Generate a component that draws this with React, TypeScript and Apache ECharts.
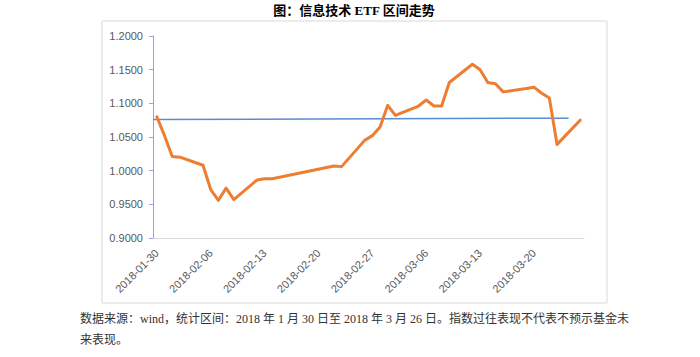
import React, { useEffect, useRef } from 'react';
import * as echarts from 'echarts';

// ---- data ----
const tradingDates = [
  '2018-01-30', '2018-01-31', '2018-02-01', '2018-02-02', '2018-02-05', '2018-02-06',
  '2018-02-07', '2018-02-08', '2018-02-09', '2018-02-12', '2018-02-13', '2018-02-14',
  '2018-02-22', '2018-02-23', '2018-02-26', '2018-02-27', '2018-02-28', '2018-03-01',
  '2018-03-02', '2018-03-05', '2018-03-06', '2018-03-07', '2018-03-08', '2018-03-09',
  '2018-03-12', '2018-03-13', '2018-03-14', '2018-03-15', '2018-03-16', '2018-03-19',
  '2018-03-20', '2018-03-21', '2018-03-22', '2018-03-23', '2018-03-26',
];
const etfValues = [
  1.080, 1.052, 1.021, 1.020, 1.008, 0.972,
  0.956, 0.974, 0.957, 0.986, 0.988, 0.988,
  1.007, 1.006, 1.045, 1.052, 1.065, 1.097,
  1.082, 1.096, 1.105, 1.096, 1.096, 1.131,
  1.158, 1.150, 1.131, 1.129, 1.117, 1.122,
  1.124, 1.115, 1.108, 1.039, 1.075,
];
const axisStartDate = '2018-01-30';
const axisDayCount = 56;
const refLineDays = [0, 54];
const refLineValues = [1.076, 1.078];
const yTickValues = [0.9, 0.95, 1.0, 1.05, 1.1, 1.15, 1.2];

const titleText = '图：信息技术 ETF 区间走势';
const noteLine1 = '数据来源：wind，统计区间：2018 年 1 月 30 日至 2018 年 3 月 26 日。指数过往表现不代表不预示基金未';
const noteLine2 = '来表现。';

function buildCategories(): string[] {
  const [y, m, d] = axisStartDate.split('-').map(Number);
  const start = Date.UTC(y, m - 1, d);
  const out: string[] = [];
  for (let i = 0; i < axisDayCount; i++) {
    const dt = new Date(start + i * 86400000);
    const mm = String(dt.getUTCMonth() + 1).padStart(2, '0');
    const dd = String(dt.getUTCDate()).padStart(2, '0');
    out.push(`${dt.getUTCFullYear()}-${mm}-${dd}`);
  }
  return out;
}

export default function App() {
  const ref = useRef<HTMLDivElement>(null);
  useEffect(() => {
    if (!ref.current) return;
    const chart = echarts.init(ref.current, null, { renderer: 'svg' });
    const categories = buildCategories();
    const valueMap: Record<string, number> = {};
    tradingDates.forEach((d, i) => (valueMap[d] = etfValues[i]));
    const orangeData = categories.map((c) => (c in valueMap ? valueMap[c] : null));
    const blueData = refLineDays.map((d, i) => [d, refLineValues[i]]);
    const serifCJK = '"Liberation Serif", "Noto Sans CJK SC", serif';

    chart.setOption({
      animation: false,
      backgroundColor: '#ffffff',
      grid: { left: 153, top: 36, width: 431, height: 202, containLabel: false },
      xAxis: [
        {
          type: 'category',
          data: categories,
          boundaryGap: true,
          axisLine: { show: true, lineStyle: { color: '#d9d9d9', width: 1 } },
          axisTick: { show: false },
          splitLine: { show: false },
          axisLabel: {
            interval: 6,
            rotate: 45,
            margin: 13,
            color: '#595959',
            fontSize: 11,
            fontFamily: '"Liberation Sans", Arial, sans-serif',
          },
        },
        { type: 'value', min: 0, max: axisDayCount, show: false },
      ],
      yAxis: {
        type: 'value',
        min: yTickValues[0],
        max: yTickValues[yTickValues.length - 1],
        interval: 0.05,
        axisLine: { show: true, lineStyle: { color: '#8eaadb', width: 1 } },
        axisTick: { show: true, length: 4, lineStyle: { color: '#8eaadb' } },
        splitLine: { show: false },
        axisLabel: {
          formatter: (v: number) => v.toFixed(4),
          color: '#595959',
          fontSize: 11,
          margin: 10,
          fontFamily: '"Liberation Sans", Arial, sans-serif',
        },
      },
      series: [
        {
          type: 'line',
          xAxisIndex: 1,
          data: blueData,
          symbol: 'none',
          lineStyle: { color: '#5b8bd0', width: 1.5 },
          z: 2,
        },
        {
          type: 'line',
          data: orangeData,
          connectNulls: true,
          symbol: 'none',
          showSymbol: false,
          lineStyle: { color: '#ED7D31', width: 3, cap: 'round', join: 'round' },
          z: 3,
        },
      ],
      graphic: [
        {
          type: 'rect',
          shape: { x: 102, y: 21, width: 505, height: 282 },
          style: { fill: 'none', stroke: '#d9d9d9', lineWidth: 1 },
          silent: true,
        },
        {
          type: 'text',
          x: 354,
          y: 10,
          style: {
            text: titleText,
            fill: '#000000',
            font: `bold 13px ${serifCJK}`,
            textAlign: 'center',
            textVerticalAlign: 'middle',
          },
        },
        {
          type: 'text',
          x: 80,
          y: 319,
          style: {
            text: noteLine1,
            fill: '#333333',
            font: `12px ${serifCJK}`,
            textAlign: 'left',
            textVerticalAlign: 'middle',
          },
        },
        {
          type: 'text',
          x: 80,
          y: 340,
          style: {
            text: noteLine2,
            fill: '#333333',
            font: `12px ${serifCJK}`,
            textAlign: 'left',
            textVerticalAlign: 'middle',
          },
        },
      ],
    });
    return () => chart.dispose();
  }, []);
  return (
    <div
      ref={ref}
      style={{ position: 'fixed', left: 0, top: 0, width: 700, height: 357, background: '#ffffff' }}
    />
  );
}
